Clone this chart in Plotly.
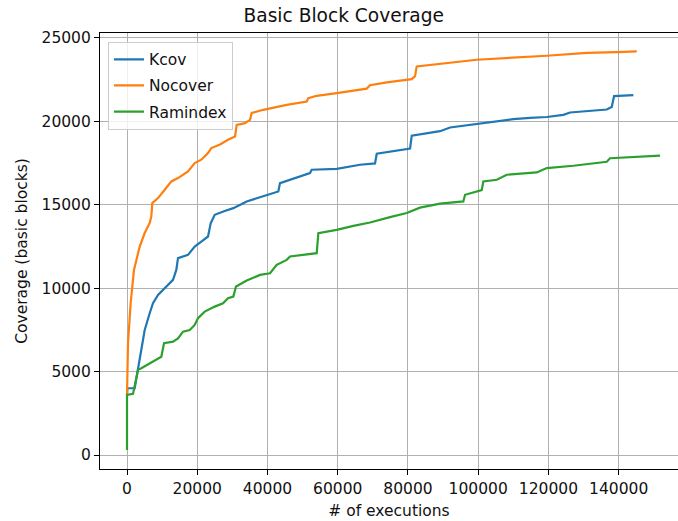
import plotly.graph_objects as go

# ---- data ----
kcov_x = [0, 85, 2190, 3130, 4070, 5040, 6460, 7400, 8830, 10740, 13100, 14040, 14520,
          17370, 19280, 21160, 23070, 23840, 24980, 27820, 30270, 34090, 38820, 43090,
          43570, 47360, 52110, 52590, 59720, 66350, 70630, 71110, 80600, 81080, 89140,
          91980, 101470, 110000, 114770, 119520, 124250, 126160, 136610, 138030, 138490,
          138690, 144190]
kcov_y = [3600, 4000, 4000, 5100, 6300, 7490, 8490, 9090, 9590, 9990, 10490, 11090, 11790,
          11990, 12490, 12790, 13090, 13890, 14390, 14620, 14790, 15190, 15490, 15790,
          16290, 16550, 16890, 17090, 17140, 17390, 17470, 18050, 18360, 19130, 19400,
          19620, 19880, 20120, 20200, 20250, 20380, 20520, 20700, 20850, 21300, 21500, 21560]

nocover_x = [0, 285, 1050, 1990, 3620, 5040, 6460, 6920, 7200, 8830, 10740, 12620, 14520,
             17370, 19280, 21160, 23070, 24010, 26490, 28760, 30760, 31240, 33600, 35030,
             35510, 38820, 45480, 51180, 51630, 54020, 59720, 68260, 69200, 73960, 81080,
             82020, 82500, 89130, 99590, 119520, 130920, 139460, 145150]
nocover_y = [3600, 6700, 9110, 11090, 12490, 13300, 13900, 14290, 15090, 15390, 15890, 16390,
             16590, 16990, 17490, 17690, 18090, 18390, 18600, 18890, 19080, 19780, 19880,
             20080, 20490, 20680, 20980, 21180, 21380, 21520, 21680, 21950, 22150, 22320,
             22520, 22700, 23280, 23440, 23680, 23920, 24090, 24140, 24180]

ramindex_x = [0, 0, 1710, 2190, 3130, 4070, 6460, 7890, 9770, 10540, 13100, 14520, 15950,
              17860, 19280, 20220, 22130, 24980, 27340, 28760, 30270, 31040, 34090, 37880,
              40730, 42630, 45480, 46420, 54020, 54480, 59720, 64450, 69200, 74900, 79650,
              83440, 89140, 95770, 96260, 101010, 101470, 105290, 108140, 116680, 119520,
              127110, 136610, 137550, 146100, 151790]
ramindex_y = [300, 3600, 3660, 4100, 5100, 5200, 5500, 5700, 5890, 6700, 6790, 6990, 7390,
              7490, 7790, 8200, 8590, 8890, 9090, 9390, 9490, 10090, 10450, 10790, 10890,
              11390, 11690, 11890, 12090, 13290, 13490, 13730, 13930, 14250, 14500, 14820,
              15060, 15190, 15590, 15870, 16390, 16490, 16790, 16930, 17190, 17330, 17570,
              17780, 17890, 17930]

series_names = ["Kcov", "Nocover", "Ramindex"]
series_colors = ["#1f77b4", "#ff7f0e", "#2ca02c"]

x_ticks = [0, 20000, 40000, 60000, 80000, 100000, 120000, 140000]
y_ticks = [0, 5000, 10000, 15000, 20000, 25000]

FONT = "DejaVu Sans"

fig = go.Figure()
for i, (name, xs, ys) in enumerate(zip(series_names,
                                       [kcov_x, nocover_x, ramindex_x],
                                       [kcov_y, nocover_y, ramindex_y])):
    fig.add_trace(go.Scatter(x=xs, y=ys, mode="lines", name=name,
                             legendgroup=name,
                             line=dict(color=series_colors[i], width=2.2)))

axis_common = dict(
    showgrid=True, gridcolor="#b0b0b0", gridwidth=1,
    showline=True, linecolor="black", linewidth=1.1,
    ticks="outside", ticklen=5, tickwidth=1.1, tickcolor="black",
    tickfont=dict(family=FONT, size=15.5, color="#111111"),
    zeroline=False, tickformat="d",
)

fig.update_layout(
    width=678, height=521,
    margin=dict(l=100, r=0, t=33, b=52),
    plot_bgcolor="white", paper_bgcolor="white",
    font=dict(family=FONT, color="black"),
    title=dict(text="Basic Block Coverage", x=0.507, xanchor="center",
               y=1 - 15 / 521, yanchor="middle", yref="container",
               font=dict(family=FONT, size=18.6, color="#111111")),
    xaxis=dict(range=[-7690, 156900], tickvals=x_ticks, mirror=True,
               title=dict(text="# of executions", standoff=8,
                          font=dict(family=FONT, size=15.5, color="#111111")),
               **axis_common),
    yaxis=dict(range=[-839, 25282], tickvals=y_ticks, mirror=False,
               title=dict(text="Coverage (basic blocks)", standoff=10,
                          font=dict(family=FONT, size=15.5, color="#111111")),
               **axis_common),
    legend=dict(x=0.0138, y=0.98, xanchor="left", yanchor="top",
                bgcolor="rgba(255,255,255,0.8)", bordercolor="#cccccc", borderwidth=1,
                font=dict(family=FONT, size=15.5, color="#111111"),
                tracegroupgap=3, itemwidth=30),
    showlegend=True,
)

fig.write_html("out.html", config={"displayModeBar": False},
               post_script="document.body.style.margin='0';")
